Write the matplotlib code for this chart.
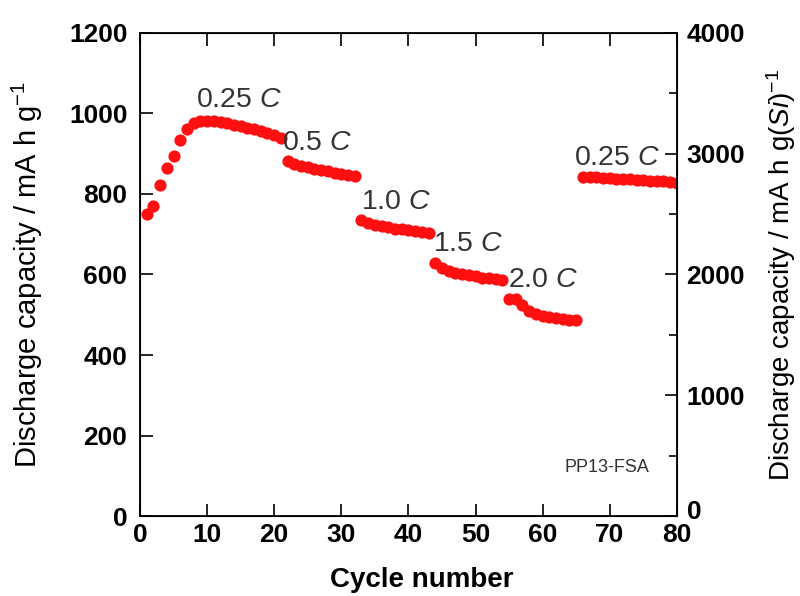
import matplotlib.pyplot as plt
from matplotlib.ticker import MultipleLocator, FuncFormatter

plt.rcParams['font.family'] = ['Liberation Sans', 'DejaVu Sans']
plt.rcParams['mathtext.fontset'] = 'custom'
plt.rcParams['mathtext.rm'] = 'Liberation Sans'
plt.rcParams['mathtext.it'] = 'Liberation Sans:italic'

# discharge capacity per cycle, grouped by C-rate step
cycles_025a = list(range(1, 22))
cap_025a = [750, 770, 822, 865, 895, 933, 962, 975, 980, 981, 980, 978, 975,
            972, 968, 964, 960, 955, 950, 946, 940]
cycles_05 = list(range(22, 33))
cap_05 = [882, 875, 870, 866, 862, 859, 856, 853, 850, 848, 845]
cycles_10 = list(range(33, 44))
cap_10 = [735, 728, 724, 720, 717, 714, 712, 710, 708, 706, 704]
cycles_15 = list(range(44, 55))
cap_15 = [628, 615, 608, 604, 601, 598, 595, 592, 590, 588, 587]
cycles_20 = list(range(55, 66))
cap_20 = [540, 538, 525, 510, 502, 498, 494, 491, 489, 487, 486]
cycles_025b = list(range(66, 81))
cap_025b = [842, 842, 841, 840, 839, 838, 837, 836, 835, 834, 833, 832, 831, 830, 828]

# rate labels: (x, y, rate)
rate_labels = [(8.3, 1032, '0.25'), (21.2, 927, '0.5'), (33.0, 780, '1.0'),
               (43.7, 676, '1.5'), (54.9, 586, '2.0'), (64.7, 889, '0.25')]

fig = plt.figure(figsize=(8, 5.96), dpi=100)
ax = fig.add_axes([0.175, 0.134, 0.671, 0.811])

segments = [(cycles_025a, cap_025a), (cycles_05, cap_05), (cycles_10, cap_10),
            (cycles_15, cap_15), (cycles_20, cap_20), (cycles_025b, cap_025b)]
for xs, ys in segments:
    ax.plot(xs, ys, 'o', color='#ff1010', markersize=8.8, markeredgewidth=0)

for x, y, rate in rate_labels:
    ax.text(x, y, rate + r' $\mathit{C}$', fontsize=20.5, color='#333333',
            ha='left', va='center')
ax.text(63.3, 120, 'PP13-FSA', fontsize=13, color='#333333', ha='left', va='center')

ax.set_xlim(0, 80)
ax.set_ylim(0, 1200)
ax.xaxis.set_major_locator(MultipleLocator(10))
ax.yaxis.set_major_locator(MultipleLocator(200))
ax.tick_params(axis='both', direction='in', length=9, width=1.2, labelsize=19,
               top=True, right=False)
ax.tick_params(axis='y', pad=9)
ax.tick_params(axis='x', pad=5)
for lbl in ax.get_xticklabels() + ax.get_yticklabels():
    lbl.set_fontweight('bold')
for s in ax.spines.values():
    s.set_linewidth(1.3)

ax.set_xlabel('Cycle number', fontsize=20, fontweight='bold')
ax.xaxis.set_label_coords(0.525, -0.105)
ax.set_ylabel(r'Discharge capacity / mA h g$^{-1}$', fontsize=21)
ax.yaxis.set_label_coords(-0.177, 0.5)

# second scale in capacity per gram of Si
ax2 = ax.twinx()
ax2.set_ylim(0, 4000)
ax2.yaxis.set_major_locator(MultipleLocator(1000))
ax2.yaxis.set_minor_locator(MultipleLocator(500))
# the zero label is drawn separately, raised above the "80" on the x axis
ax2.yaxis.set_major_formatter(FuncFormatter(lambda v, p: '' if v == 0 else f'{v:.0f}'))
ax2.tick_params(axis='y', which='major', direction='in', length=9, width=1.2,
                labelsize=19, pad=7)
ax2.tick_params(axis='y', which='minor', direction='in', length=6, width=1.2)
for lbl in ax2.get_yticklabels():
    lbl.set_fontweight('bold')
ax2.annotate('0', xy=(1, 0), xycoords='axes fraction', xytext=(7, -2),
             textcoords='offset points', ha='left', va='baseline',
             fontsize=19, fontweight='bold')
ax2.set_ylabel(r'Discharge capacity / mA h g($\mathit{Si}$)$^{-1}$', fontsize=20)
ax2.yaxis.set_label_coords(1.163, 0.5)

fig.savefig('out.png', dpi=100)
